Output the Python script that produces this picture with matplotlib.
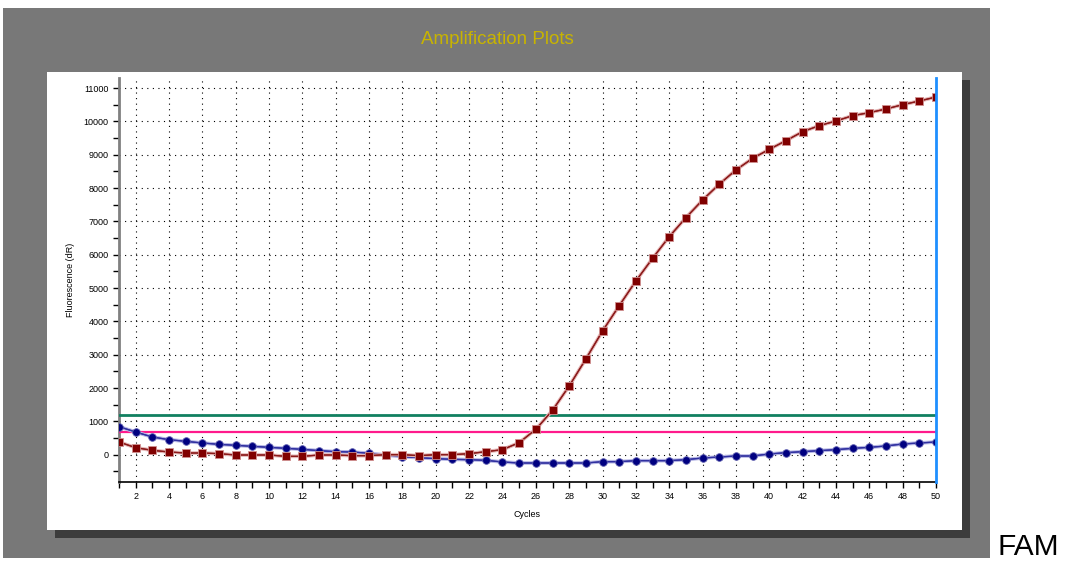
import matplotlib.pyplot as plt
import matplotlib.patheffects as pe
from matplotlib.patches import Rectangle
from matplotlib.ticker import MultipleLocator

plt.rcParams['font.family'] = ['Liberation Sans', 'DejaVu Sans']

cycles = list(range(1, 51))

# fluorescence (dR) per cycle
sample_red = [380, 210, 130, 80, 50, 50, 30, -10, -10, -10,
              -50, -50, -10, -10, -30, -30, 0, 0, -30, 0,
              0, 30, 90, 150, 360, 760, 1330, 2060, 2870, 3710,
              4470, 5210, 5890, 6540, 7110, 7640, 8115, 8540, 8890, 9160,
              9420, 9690, 9870, 10010, 10170, 10260, 10370, 10500, 10610, 10730]
sample_blue = [840, 680, 530, 450, 400, 350, 310, 280, 250, 220,
               190, 160, 120, 90, 80, 40, -10, -60, -90, -120,
               -140, -150, -170, -220, -250, -250, -250, -250, -250, -210,
               -210, -180, -180, -180, -150, -100, -70, -40, -40, 20,
               60, 90, 120, 150, 190, 220, 260, 320, 350, 380]
threshold_green = 1190
threshold_pink = 670

W, H = 1065, 562
fig = plt.figure(figsize=(W / 100, H / 100), dpi=100)
fig.patch.set_facecolor('white')


def px_rect(x0, y0, x1, y1, color, z):
    fig.patches.append(Rectangle((x0 / W, 1 - y1 / H), (x1 - x0) / W, (y1 - y0) / H,
                                 transform=fig.transFigure, facecolor=color,
                                 edgecolor='none', zorder=z))


# gray frame, drop shadow and white plot panel
px_rect(3, 8, 990, 558, '#787878', -3)
px_rect(55, 80, 970, 538, '#3c3c3c', -2)
px_rect(47, 72, 962, 530, 'white', -1)

fig.text(497 / W, 1 - 40 / H, 'Amplification Plots', color='#c8b400',
         fontsize=13.5, ha='center', va='center')
fig.text(998 / W, 1 - 547 / H, 'FAM', color='black', fontsize=21.5,
         ha='left', va='center')

ax = fig.add_axes([119 / W, 1 - 482 / H, (936 - 119) / W, (482 - 78) / H])
ax.set_facecolor('none')
ax.set_xlim(1, 50)
ax.set_ylim(-820, 11300)

ax.xaxis.set_minor_locator(MultipleLocator(1))
ax.yaxis.set_major_locator(MultipleLocator(1000))
ax.yaxis.set_minor_locator(MultipleLocator(500))
ax.set_xticks(range(2, 51, 2))
ax.grid(True, which='major', color='black', linestyle=(0, (1, 4)), linewidth=0.8)

for s in ['top', 'right']:
    ax.spines[s].set_visible(False)
ax.spines['left'].set_color('#808080')
ax.spines['left'].set_linewidth(2)
ax.spines['bottom'].set_color('black')
ax.spines['bottom'].set_linewidth(1.2)
ax.tick_params(which='both', direction='out', labelsize=6.5, length=4, width=1)

ax.set_xlabel('Cycles', fontsize=6.5, labelpad=6)
ax.set_ylabel('Fluorescence (dR)', fontsize=6.5, labelpad=6)

ax.axhline(threshold_green, color='#118060', linewidth=2, zorder=3)
ax.axhline(threshold_pink, color='#ff1a8c', linewidth=1.6, zorder=3)
ax.axvline(50, color='#1e8fff', linewidth=2, zorder=6, clip_on=False)

# connecting lines with a soft halo, markers on top
ax.plot(cycles, sample_blue, color='#3030a0', linewidth=0.9, zorder=4,
        path_effects=[pe.withStroke(linewidth=2.6, foreground='#b4b4e4'), pe.Normal()])
ax.plot(cycles, sample_red, color='#8b1a1a', linewidth=0.9, zorder=4,
        path_effects=[pe.withStroke(linewidth=2.6, foreground='#e4b4b4'), pe.Normal()])
ax.plot(cycles, sample_blue, linestyle='none', marker='o', markersize=5.5,
        markerfacecolor='#000080', markeredgecolor='#6060b0',
        markeredgewidth=0.6, zorder=5)
ax.plot(cycles, sample_red, linestyle='none', marker='s', markersize=5.3,
        markerfacecolor='#800000', markeredgecolor='#d09090',
        markeredgewidth=0.6, zorder=5)

fig.savefig('out.png', dpi=100)
